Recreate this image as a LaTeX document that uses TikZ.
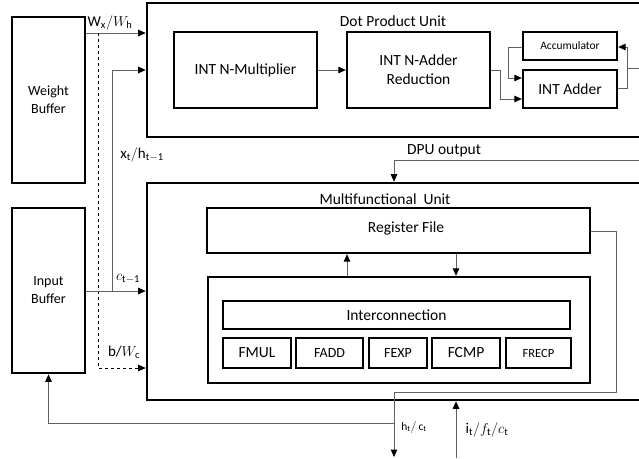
\documentclass[tikz,border=0pt]{standalone}
\usepackage{fontspec}
\setmainfont{Carlito}
\usetikzlibrary{arrows.meta}
\begin{document}
\begin{tikzpicture}[x=1pt,y=-1pt,
  bigbox/.style={draw=black,line width=2.6pt,inner sep=0pt,fill=white},
  midbox/.style={draw=black,line width=2.3pt,inner sep=0pt,fill=white},
  conn/.style={draw=black!62,line width=1pt,-{Triangle[length=7.5pt,width=6.5pt,color=black]}},
  line/.style={draw=black!62,line width=1pt},
  dashconn/.style={draw=black,line width=0.8pt,dashed,-{Triangle[length=7.5pt,width=6.5pt,color=black]}},
  lbl/.style={font=\fontsize{15.5}{17}\selectfont,inner sep=0pt},
  mlbl/.style={font=\fontsize{15}{17}\selectfont,inner sep=0pt}]
\useasboundingbox (0,0) rectangle (639,458);
\clip (0,0) rectangle (639,458);
\fill[white] (0,0) rectangle (639,458);
% big boxes
\node[bigbox,minimum width=73pt,minimum height=166pt,align=center,font=\fontsize{14}{18}\selectfont] (wb) at (48.5,100) {Weight\\Buffer};
\node[bigbox,minimum width=73pt,minimum height=165pt,align=center,font=\fontsize{14}{18}\selectfont] (ib) at (48.5,290.5) {Input\\Buffer};
\node[bigbox,minimum width=553pt,minimum height=134pt] (dpu) at (423.5,70) {};
\node[bigbox,minimum width=553pt,minimum height=217pt] (mfu) at (423.5,291.5) {};
% DPU inner
\node[midbox,minimum width=143pt,minimum height=76pt,lbl] (mult) at (245.5,70) {INT N-Multiplier};
\node[midbox,minimum width=143pt,minimum height=76pt,lbl,align=center] (red) at (418.5,70) {INT N-Adder\\[2pt]Reduction};
\node[midbox,minimum width=94pt,minimum height=28pt,font=\fontsize{11.5}{13}\selectfont] (acc) at (570,46) {Accumulator};
\node[midbox,minimum width=94pt,minimum height=38pt,lbl] (add) at (570,89) {INT Adder};
% MFU inner
\node[midbox,minimum width=383pt,minimum height=45pt,lbl] (rf) at (398.5,230.5) {};
\node[lbl] (trf) at (406,228) {Register File};
\node[midbox,minimum width=382pt,minimum height=106pt] (inner) at (399,330) {};
\node[midbox,minimum width=347pt,minimum height=28pt,lbl] (ic) at (396.5,315) {Interconnection};
\node[midbox,minimum width=68pt,minimum height=30pt,lbl] (fmul) at (257,353) {FMUL};
\node[midbox,minimum width=67pt,minimum height=30pt,font=\fontsize{14}{16}\selectfont] (fadd) at (329.5,353) {FADD};
\node[midbox,minimum width=58pt,minimum height=30pt,font=\fontsize{14}{16}\selectfont] (fexp) at (398,353) {FEXP};
\node[midbox,minimum width=68pt,minimum height=30pt,lbl] (fcmp) at (466,353) {FCMP};
\node[midbox,minimum width=65pt,minimum height=30pt,font=\fontsize{12.5}{14}\selectfont] (frecp) at (538.5,353) {FRECP};
% titles
\node[lbl] (tdpu) at (393,21) {Dot Product Unit};
\node[lbl] (tmfu) at (385,199) {Multifunctional\ \ Unit};
\node[lbl] (tout) at (444,151) {DPU output};
% coordinates
\coordinate (d1) at (98,33);
\coordinate (d2) at (98,368);
\coordinate (x1) at (112,291);
\coordinate (x2) at (112,70);
\coordinate (o1) at (616,231);
\coordinate (o2) at (616,392);
\coordinate (o3) at (394,392);
\coordinate (o4) at (394,457);
\coordinate (fb) at (394,423);
\coordinate (in1) at (456,458);
\coordinate (dp1) at (650,160);
\coordinate (dp2) at (394,160);
\coordinate (r1) at (500,70);
\coordinate (r2) at (500,99);
\coordinate (a1) at (508,47);
\coordinate (a2) at (508,78);
\coordinate (s1) at (627,88);
\coordinate (s2) at (627,47);
\coordinate (s3) at (650,68);
% connectors
\draw[conn] (wb.east |- d1) -- (dpu.west |- d1);
\draw[dashconn] (d1) -- (d2) -- (mfu.west |- d2);
\draw[conn] (ib.east |- x1) -- (mfu.west |- x1);
\draw[conn] (x1) -- (x2) -- (dpu.west |- x2);
\draw[conn] (fb) -- (fb -| ib.south) -- (ib.south);
\draw[conn] (rf.east |- o1) -- (o1) -- (o2) -- (o3) -- (o4);
\draw[conn] (in1) -- (in1 |- mfu.south);
\draw[conn] (inner.north -| 347,0) -- (rf.south -| 347,0);
\draw[conn] (rf.south -| 456,0) -- (inner.north -| 456,0);
\draw[conn] (mult.east) -- (red.west);
\draw[conn] (red.east |- r1) -- (r1) -- (r2) -- (add.west |- r2);
\draw[conn] (acc.west |- a1) -- (a1) -- (a2) -- (add.west |- a2);
\draw[conn] (add.east |- s1) -- (s1) -- (s2) -- (acc.east |- s2);
\draw[line] (s1 |- s3) -- (s3);
\draw[conn] (dp1) -- (dp2) -- (dp2 |- mfu.north);
% labels
\node[mlbl] (lw) at (110,23) {$\mathrm{W_x}/W_{\mathrm{h}}$};
\node[mlbl] (lx) at (142,155) {$\mathrm{x_t/h_{t-1}}$};
\node[mlbl] (lc) at (128,279) {$c_{\mathrm{t-1}}$};
\node[mlbl] (lb) at (124,352) {b/$W_{\mathrm{c}}$};
\node[font=\fontsize{11.5}{13}\selectfont,inner sep=0pt] (lh) at (414,427) {$\mathrm{h_t/\,c_t}$};
\node[mlbl] (li) at (487,430) {$\mathrm{i_t}/f_{\mathrm{t}}/c_{\mathrm{t}}$};
\end{tikzpicture}
\end{document}
